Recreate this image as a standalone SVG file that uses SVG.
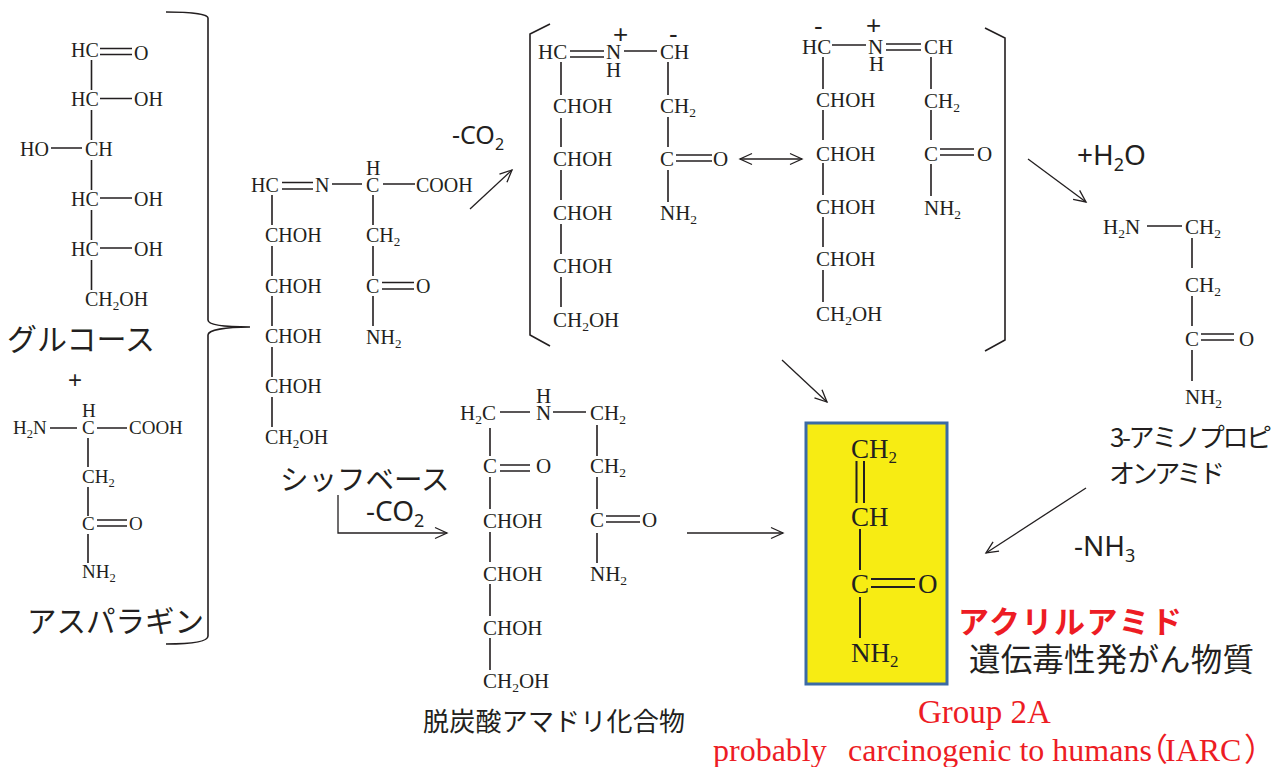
<svg xmlns="http://www.w3.org/2000/svg" width="1282" height="767" viewBox="0 0 1282 767">
<style>
text{fill:#231f20}
.c{font-family:"Liberation Serif",serif;font-size:20px}
.m{font-family:"Liberation Serif",serif;font-size:21px}
.s{font-family:"Liberation Serif",serif;font-size:19px}
.y{font-family:"Liberation Serif",serif;font-size:27px}
.j{font-family:"Noto Sans CJK JP",sans-serif}
.l{font-family:"Noto Sans",sans-serif;font-size:25px}
.l2{font-family:"Noto Sans",sans-serif;font-size:28px}
.ch{font-family:"Liberation Sans",sans-serif;font-size:26px}
.r{font-family:"Liberation Serif","Noto Sans CJK JP",serif;font-size:32px;fill:#ed1c24}
.b{stroke:#231f20;stroke-width:1.6;fill:none}
.a{stroke:#231f20;stroke-width:1.3;fill:none;marker-end:url(#h)}
.k{stroke:#231f20;stroke-width:1.6;fill:none}
</style>
<defs>
<marker id="h" markerUnits="userSpaceOnUse" markerWidth="16" markerHeight="16" refX="14" refY="8" orient="auto-start-reverse"><path d="M2,2.5L14,8L2,13.5" fill="none" stroke="#231f20" stroke-width="1.3"/></marker>
</defs>

<g id="glucose">
<path class="b" d="M91.500,60V90M91.500,110V140M91.500,160V190M91.500,210V240M91.500,260V290M100,48.500H132M100,54.500H132M100,98.500H132M51,148H82M100,198H132M100,248H132"/>
<text class="c" x="71" y="57">HC</text><text class="c" x="134" y="60">O</text>
<text class="c" x="71" y="106">HC</text><text class="c" x="134" y="106">OH</text>
<text class="c" x="20" y="156">HO</text><text class="c" x="85" y="156">CH</text>
<text class="c" x="71" y="206">HC</text><text class="c" x="134" y="206">OH</text>
<text class="c" x="71" y="256">HC</text><text class="c" x="134" y="256">OH</text>
<text class="c" x="85" y="306">CH<tspan font-size="13" dy="4">2</tspan><tspan dy="-4">OH</tspan></text>
<text class="j" x="7" y="350" font-size="30">グルコース</text>
</g>

<text id="plus" class="ch" x="68" y="388" style="font-size:24px">+</text>

<g id="asparagine">
<path class="b" d="M50,428H77M97,428H127M88,438V467M88,487V516M88,534V563M97,520H127M97,526H127"/>
<text class="s" x="13" y="434">H<tspan font-size="12.500" dy="4">2</tspan><tspan dy="-4">N</tspan></text>
<text class="s" x="82" y="417">H</text><text class="s" x="82" y="434">C</text><text class="s" x="129" y="434">COOH</text>
<text class="s" x="82" y="483">CH<tspan font-size="12.500" dy="4">2</tspan></text>
<text class="s" x="82" y="530">C</text><text class="s" x="129" y="530">O</text>
<text class="s" x="82" y="578">NH<tspan font-size="12.500" dy="4">2</tspan></text>
<text class="j" x="27" y="632" font-size="29.500">アスパラギン</text>
</g>

<g id="schiff-base">
<path class="b" d="M282,182.500H313M282,189H313M332,184H362M383,184H415M272,195V225M272,246V276M272,296V326M272,347V377M272,397V427M373,195V225M373,246V276M373,296V326M382,282.500H414M382,289H414"/>
<text class="c" x="251" y="192">HC</text><text class="c" x="315" y="192">N</text>
<text class="c" x="366" y="175">H</text><text class="c" x="366" y="192">C</text><text class="c" x="416" y="192">COOH</text>
<text class="c" x="265" y="242">CHOH</text><text class="c" x="265" y="293">CHOH</text><text class="c" x="265" y="343">CHOH</text><text class="c" x="265" y="393">CHOH</text>
<text class="c" x="265" y="444">CH<tspan font-size="13" dy="4">2</tspan><tspan dy="-4">OH</tspan></text>
<text class="c" x="366" y="242">CH<tspan font-size="13" dy="4">2</tspan></text>
<text class="c" x="366" y="293">C</text><text class="c" x="416" y="293">O</text>
<text class="c" x="366" y="344">NH<tspan font-size="13" dy="4">2</tspan></text>
<text class="j" x="280" y="490" font-size="28.500">シッフベース</text>
</g>

<g id="iminium-left">
<path class="b" d="M570,51H604M570,57H604M624,51H657M561,62V95M561,118V147M561,170V200M561,224V254M561,277V307M668,62V95M668,117V147M668,170V202M676,155H712M676,161H712"/>
<text class="m" x="538" y="59">HC</text><text class="m" x="606" y="59">N</text><text class="m" x="606" y="77">H</text><text class="m" x="660" y="59">CH</text>
<text class="ch" x="613" y="43">+</text><text class="ch" x="669" y="43">-</text>
<text class="m" x="553" y="113">CHOH</text><text class="m" x="553" y="166">CHOH</text><text class="m" x="553" y="220">CHOH</text><text class="m" x="553" y="273">CHOH</text>
<text class="m" x="553" y="327">CH<tspan font-size="13.500" dy="4">2</tspan><tspan dy="-4">OH</tspan></text>
<text class="m" x="660" y="113">CH<tspan font-size="13.500" dy="4">2</tspan></text>
<text class="m" x="660" y="166">C</text><text class="m" x="713" y="166">O</text>
<text class="m" x="660" y="220">NH<tspan font-size="13.500" dy="4">2</tspan></text>
</g>

<g id="iminium-right">
<path class="b" d="M832,45H866M886,44H921M886,50H921M823,57V89M823,110V140M823,163V195M823,217V247M823,270V302M931,57V89M931,110V140M931,164V196M940,149H974M940,155H974"/>
<text class="m" x="802" y="54">HC</text><text class="m" x="868" y="54">N</text><text class="m" x="869" y="71">H</text><text class="m" x="924" y="54">CH</text>
<text class="ch" x="814" y="35">-</text><text class="ch" x="866" y="34">+</text>
<text class="m" x="816" y="107">CHOH</text><text class="m" x="816" y="161">CHOH</text><text class="m" x="816" y="214">CHOH</text><text class="m" x="816" y="266">CHOH</text>
<text class="m" x="816" y="321">CH<tspan font-size="13.500" dy="4">2</tspan><tspan dy="-4">OH</tspan></text>
<text class="m" x="924" y="108">CH<tspan font-size="13.500" dy="4">2</tspan></text>
<text class="m" x="924" y="161">C</text><text class="m" x="977" y="161">O</text>
<text class="m" x="924" y="215">NH<tspan font-size="13.500" dy="4">2</tspan></text>
</g>

<g id="amadori">
<path class="b" d="M500,412H530M553,412H586M490,428V456M490,477V509M490,532V562M490,584V616M490,638V670M500,465H530M500,471H530M597,425V456M597,477V509M597,533V563M606,516H640M606,522H640"/>
<text class="m" x="460" y="420">H<tspan font-size="13.500" dy="4">2</tspan><tspan dy="-4">C</tspan></text>
<text class="m" x="536" y="403">H</text><text class="m" x="536" y="420">N</text>
<text class="m" x="590" y="420">CH<tspan font-size="13.500" dy="4">2</tspan></text>
<text class="m" x="483" y="473">C</text><text class="m" x="536" y="473">O</text>
<text class="m" x="483" y="528">CHOH</text><text class="m" x="483" y="581">CHOH</text><text class="m" x="483" y="635">CHOH</text>
<text class="m" x="483" y="688">CH<tspan font-size="13.500" dy="4">2</tspan><tspan dy="-4">OH</tspan></text>
<text class="m" x="590" y="473">CH<tspan font-size="13.500" dy="4">2</tspan></text>
<text class="m" x="590" y="527">C</text><text class="m" x="642" y="527">O</text>
<text class="m" x="590" y="581">NH<tspan font-size="13.500" dy="4">2</tspan></text>
<text class="j" x="423" y="731" font-size="26" textLength="262">脱炭酸アマドリ化合物</text>
</g>

<g id="aminopropionamide">
<path class="b" d="M1147,226H1182M1192,238V268M1192,296V326M1192,350V381M1201,334H1234M1201,340H1234"/>
<text class="m" x="1103" y="234">H<tspan font-size="13.500" dy="4">2</tspan><tspan dy="-4">N</tspan></text>
<text class="m" x="1185" y="234">CH<tspan font-size="13.500" dy="4">2</tspan></text>
<text class="m" x="1185" y="292">CH<tspan font-size="13.500" dy="4">2</tspan></text>
<text class="m" x="1185" y="346">C</text><text class="m" x="1239" y="346">O</text>
<text class="m" x="1185" y="404">NH<tspan font-size="13.500" dy="4">2</tspan></text>
<text class="j" x="1110" y="447" font-size="26" textLength="162">3-アミノプロピ</text>
<text class="j" x="1109" y="483" font-size="26" textLength="116">オンアミド</text>
</g>

<g id="acrylamide">
<rect x="806" y="423" width="141" height="261" fill="#f7ec13" stroke="#3b6ba5" stroke-width="3"/>
<path class="b" style="stroke-width:2" d="M856.500,461V503M864,461V503M860,529V570M860,597V638M871,579H915M871,587H915"/>
<text class="y" x="851" y="458">CH<tspan font-size="17" dy="5">2</tspan></text>
<text class="y" x="851" y="526">CH</text>
<text class="y" x="851" y="593">C</text><text class="y" x="918" y="593">O</text>
<text class="y" x="851" y="662">NH<tspan font-size="17" dy="5">2</tspan></text>
<text class="j" x="958" y="633" font-size="31" font-weight="700" style="fill:#ed1c24" textLength="224">アクリルアミド</text>
<text class="j" x="969" y="671" font-size="31.500" textLength="285">遺伝毒性発がん物質</text>
<text class="r" x="918" y="723" style="font-size:33px">Group 2A</text>
<text class="r" x="713" y="761">probably<tspan x="848">carcinogenic to humans</tspan><tspan x="1136">（</tspan><tspan x="1165">IARC</tspan><tspan x="1244">）</tspan></text>
</g>

<g id="connectors">
<path class="k" d="M166,12C190,12 208,14 208,18V320C208,325 225,327 250,327C225,327 208,330 208,335V636C208,642 190,644 166,644"/>
<path class="k" d="M550,24L530,34V335L550,346"/>
<path class="k" d="M985,28L1005,38V340L985,351"/>
<path class="a" d="M470,209L512,170"/>
<path class="a" d="M1028,159L1086,202"/>
<path class="a" d="M782,360L827,402"/>
<path class="a" d="M338,495V533H447"/>
<path class="a" d="M687,533H783"/>
<path class="a" d="M1086,488L986,553"/>
<path class="a" d="M740,159H802" style="marker-start:url(#h)"/>
</g>

<g id="labels">
<text class="l" x="452" y="144">-CO<tspan font-size="16" dy="6">2</tspan></text>
<text class="l2" x="366" y="521">-CO<tspan font-size="18" dy="6">2</tspan></text>
<text class="l2" x="1077" y="165">+H<tspan font-size="18" dy="6">2</tspan><tspan dy="-6">O</tspan></text>
<text class="l2" x="1074" y="556">-NH<tspan font-size="18" dy="6">3</tspan></text>
</g>
</svg>
